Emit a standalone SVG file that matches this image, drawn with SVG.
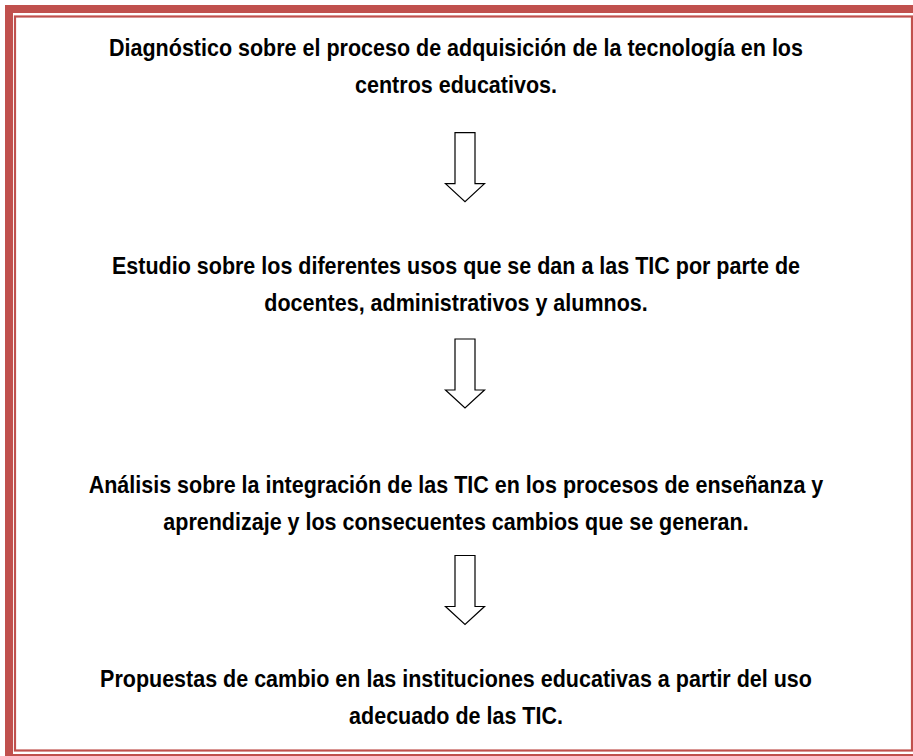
<svg xmlns="http://www.w3.org/2000/svg" width="913" height="756" viewBox="0 0 913 756">
<style>
.t{font-family:"Liberation Sans",Arial,sans-serif;font-weight:bold;font-size:21.5px;fill:#000;text-anchor:middle}
.arr{fill:#fff;stroke:#000;stroke-width:1.2;stroke-linejoin:miter}
</style>
<defs>
<path id="arrow" d="M-10,0 H10 V51 H19.5 L0,69 L-19.5,51 H-10 Z"/>
</defs>
<rect width="913" height="756" fill="#fff"/>
<g id="border">
<rect x="9" y="9" width="909" height="749" fill="none" stroke="#C0504D" stroke-width="8"/>
<rect x="15" y="16.5" width="897" height="734" fill="none" stroke="#C0504D" stroke-width="2.2"/>
</g>
<g id="node1">
<text class="t" transform="translate(456,55.5) scale(1,1.1)">Diagnóstico sobre el proceso de adquisición de la tecnología en los</text>
<text class="t" transform="translate(456,92.5) scale(1,1.1)">centros educativos.</text>
</g>
<g id="node2">
<text class="t" transform="translate(456,273.5) scale(1,1.1)">Estudio sobre los diferentes usos que se dan a las TIC por parte de</text>
<text class="t" transform="translate(456,310.5) scale(1,1.1)">docentes, administrativos y alumnos.</text>
</g>
<g id="node3">
<text class="t" transform="translate(456,492.5) scale(1,1.1)">Análisis sobre la integración de las TIC en los procesos de enseñanza y</text>
<text class="t" transform="translate(456,529.5) scale(1,1.1)">aprendizaje y los consecuentes cambios que se generan.</text>
</g>
<g id="node4">
<text class="t" transform="translate(456,686.5) scale(1,1.1)">Propuestas de cambio en las instituciones educativas a partir del uso</text>
<text class="t" transform="translate(456,723.5) scale(1,1.1)">adecuado de las TIC.</text>
</g>
<g id="connectors">
<use href="#arrow" class="arr" x="465" y="132.7"/>
<use href="#arrow" class="arr" x="465" y="339"/>
<use href="#arrow" class="arr" x="465" y="555.5"/>
</g>
</svg>
